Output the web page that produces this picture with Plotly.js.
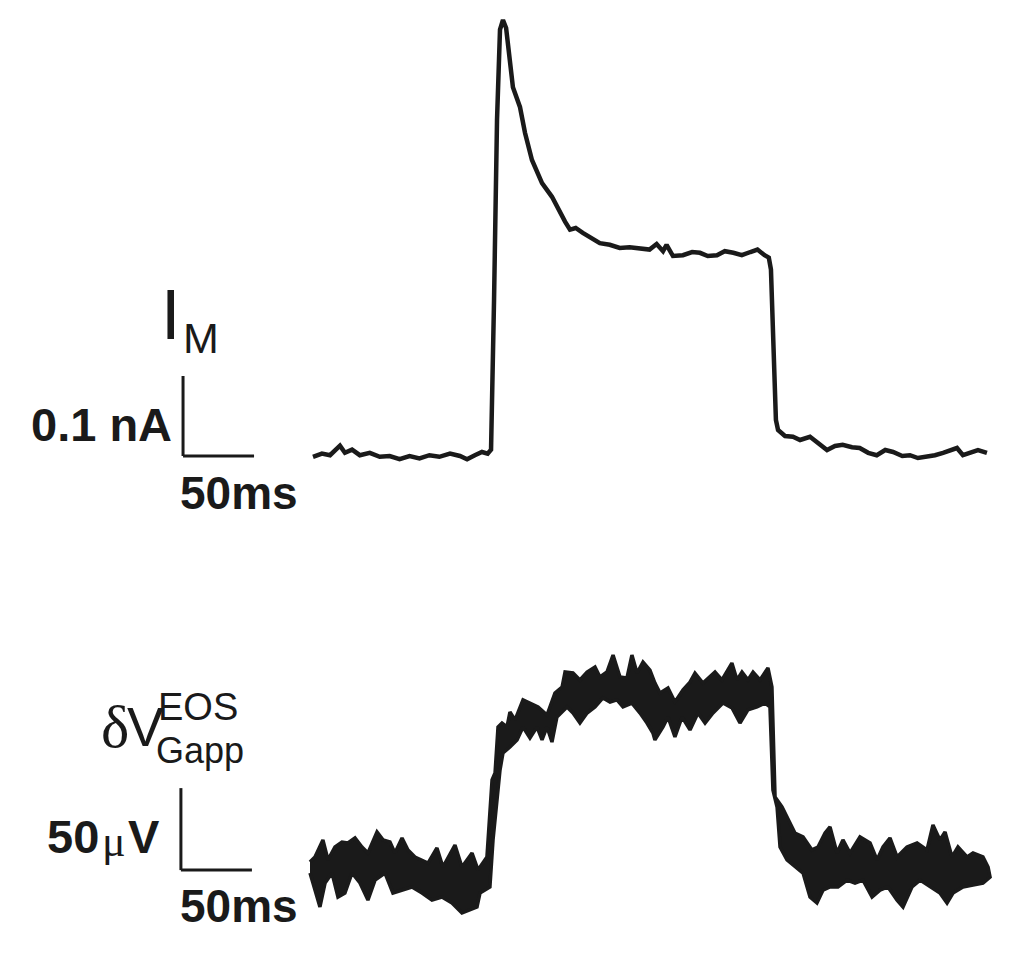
<!DOCTYPE html>
<html>
<head>
<meta charset="utf-8">
<script src="https://cdn.plot.ly/plotly-3.0.1.min.js"></script>
<style>html,body{margin:0;padding:0;background:#fff;}#chart{width:1024px;height:961px;}</style>
</head>
<body>
<div id="chart"></div>
<script>
// ---- Membrane current I_M (time in ms, current in nA) ----
const imTime = [0,6.3,12,19,22.5,27.5,33,40,47,54,61,68,75,82,89,96.5,103.5,108.5,114,119,123,125.4,
  127.5,129.6,131.7,133.8,136,137.3,139.4,140.8,145.8,149.3,154.2,161.3,168.3,174,177.5,181,185,190,195,
  202,209,216,223,230,237,242,246.5,249,253.5,260.5,267,272.5,278,284.5,290,296,302,308,313,318,321,
  322.5,324,326,327.5,332.4,338,343,350,355.6,362,367.6,373,379.6,385,391,397,403,408.5,415,420.4,426,
  432,438,443.7,448.6,453.5,457.7,462.7,468.3,474.6];
const imCurrent = [-0.001,0.003,0.001,0.013,0.004,0.008,0.001,0.004,-0.001,0,-0.004,0,-0.003,0.001,-0.001,
  0.003,0,-0.004,0.001,0.005,0.003,0.008,
  0.195,0.42,0.533,0.545,0.535,0.516,0.483,0.461,0.436,0.404,0.37,0.341,0.324,0.304,0.293,0.283,0.285,0.279,0.274,
  0.266,0.264,0.26,0.261,0.26,0.258,0.265,0.256,0.264,0.25,0.251,0.255,0.254,0.25,0.251,0.256,0.254,0.251,0.255,0.258,0.251,0.248,
  0.233,0.1325,0.045,0.0325,0.025,0.024,0.02,0.024,0.016,0.0075,0.0125,0.014,0.011,0.01,0.004,0.001,0.0075,0.005,0,0.001,-0.0025,
  -0.001,0.001,0.004,0.0075,0.01,0.001,0.004,0.0075,0.004];

// ---- δV_Gapp^EOS (time in ms, voltage in µV): upper and lower edges of the noisy trace ----
const dvUpperTime = [-2.1,1.4,7.0,10.6,15.5,20.4,24.6,29.6,34.5,38.7,45.1,49.3,54.2,57.7,62.7,66.9,71.8,76.8,81.0,87.3,
  91.5,100,104.9,112,116.2,122.5,126.1,128.2,130.3,133.1,136.6,138.7,142.3,147.9,152.8,158.5,164.8,170.4,175.4,177.5,
  183.1,188,193,198.6,202.1,207,211.3,216.2,221.1,224.6,228.2,232.4,237.3,240.8,244.4,250,254.9,260.6,265.5,269,
  274.6,283.1,288,295,298.6,302.1,306.3,309.9,314.8,320.4,323.2,325.4,330.3,334.5,339.4,345.1,351.4,355.6,360.6,364.1,
  369,373.2,378.2,385.2,392.3,397.2,401.4,406.3,411.3,418.3,425.4,432.4,436.6,441.5,445.1,450,454.2,460.6,464.8,471.8,475.4];
const dvUpper = [7.9,11,21.4,9.2,17.1,20.1,19.5,22.6,17.1,13.4,26.2,21.4,20.1,13.4,22.6,15.3,11,9.2,7.3,16.5,
  4.9,18.3,4.9,13.4,3.1,11,58,62.2,90.3,92.7,90.3,99.4,94.6,106.8,104.9,102.5,97.6,111,114.7,123.8,
  123.2,119,123.8,126.9,120.8,123.8,134.2,120.8,120.2,134.2,123.2,129.9,125,117.1,111,114.1,105.5,112.9,117.7,123.2,
  117.1,123.8,119,129.3,119,123.8,119,123.8,119,126.3,114.7,47.6,41.5,33.6,25.6,23.2,15.3,17.1,25.6,29.3,
  13.4,21.4,13.4,23.2,19.5,9.2,17.1,22.6,11,17.1,19.5,15.3,30.5,21.4,26.2,11,17.1,11,13.4,11,4.9];
const dvLowerTime = [-2.1,4.9,8.5,13.4,17.6,22.5,27.5,33.1,38.7,43.7,50.7,56.3,62.7,69.7,76.8,83.8,90.8,97.9,104.9,109.2,
  115.5,117.6,124.6,126.8,129.6,131.7,133.8,138.7,143.7,147.9,152.8,157.7,161.3,164.8,168.3,171.8,178.9,183.1,188,193,
  198.6,204.2,209.2,214.1,218.3,224.6,230.3,235.2,239.4,240.8,246.5,250,254.9,259.9,265.5,271.1,276.1,281.7,288.7,295.1,
  300.7,306.3,312.7,318.3,321.8,323.9,326.8,328.9,333.8,339.4,345.1,350,354.9,359.2,364.1,369.7,376.1,381.7,387.3,393.7,
  399.3,404.9,411.3,415.5,421.8,427.5,434.5,441.5,446.5,450.7,457.7,464.8,471.8,476.8];
const dvLower = [1.2,-19.5,-4.9,1.2,-13.4,-11,1.2,-4.9,-15.3,-3.1,1.2,-11,-9.2,-7.3,-11,-15.3,-13.4,-17.1,-23.2,-21.4,
  -19.5,-11,-7.3,21.4,47.6,64,74.4,78.1,82.4,90.3,83.6,90.3,82.4,90.3,81.1,96.4,102.5,98.8,92.7,98.8,
  102.5,108,105.5,106.8,102.5,104.9,98.8,92.7,86.6,82.4,90.3,96.4,84.2,96.4,88.5,98.8,92.7,98.8,104.9,101.9,
  92.7,100.7,102.5,104.9,102.5,51.9,41.5,17.1,9.2,4.9,1.2,-13.4,-17.1,-9.2,-7.3,-7.3,-3.1,-4.9,-3.1,-13.4,
  -9.2,-7.3,-15.3,-19.5,-7.3,-3.1,-7.3,-11,-17.1,-11,-7.3,-6.1,-4.9,-1.2];

// ---- scale bars ----
const scaleTimeMs = 50;
const scaleCurrentNa = 0.1;
const scaleVoltageUv = 50;

const ink = '#1a1a1a';

const dvX = dvUpperTime.concat(dvLowerTime.slice().reverse());
const dvY = dvUpper.concat(dvLower.slice().reverse());

const traces = [
  {x: imTime, y: imCurrent, type: 'scatter', mode: 'lines', yaxis: 'y',
   line: {color: ink, width: 4.5}, hoverinfo: 'skip'},
  {x: dvX, y: dvY, type: 'scatter', mode: 'lines', yaxis: 'y2', fill: 'toself',
   fillcolor: ink, line: {color: ink, width: 3.5}, hoverinfo: 'skip'}
];

// scale bar anchors (ms on x; nA / µV on y)
const sbTopX = -91.5, sbTopY = 0;
const sbBotX = -93, sbBotY = 3;

const shapes = [
  {type: 'line', xref: 'x', yref: 'y', x0: sbTopX, x1: sbTopX, y0: sbTopY, y1: sbTopY + scaleCurrentNa, line: {color: ink, width: 3}},
  {type: 'line', xref: 'x', yref: 'y', x0: sbTopX, x1: sbTopX + scaleTimeMs, y0: sbTopY, y1: sbTopY, line: {color: ink, width: 3}},
  {type: 'line', xref: 'x', yref: 'y2', x0: sbBotX, x1: sbBotX, y0: sbBotY, y1: sbBotY + scaleVoltageUv, line: {color: ink, width: 3}},
  {type: 'line', xref: 'x', yref: 'y2', x0: sbBotX, x1: sbBotX + scaleTimeMs, y0: sbBotY, y1: sbBotY, line: {color: ink, width: 3}}
];

const W = 1024, H = 961;
const sans = 'Liberation Sans, Arial, sans-serif';
const serif = 'Liberation Serif, Times New Roman, serif';
function ann(text, px, py, size, xanchor, family) {
  return {
    text: text, xref: 'paper', yref: 'paper', x: px / W, y: 1 - py / H,
    xanchor: xanchor, yanchor: 'middle', showarrow: false, borderpad: 0,
    font: {family: family || sans, size: size, color: ink}
  };
}
const annotations = [
  ann('I', 170, 315, 70, 'center'),
  ann('M', 201, 338, 43, 'center'),
  ann('<b>0.1 nA</b>', 173, 424, 47, 'right'),
  ann('<b>' + scaleTimeMs + 'ms</b>', 179, 493, 46, 'left'),
  ann('δ', 130, 727, 60, 'right', serif),
  ann('V', 126, 727, 55, 'left'),
  ann('EOS', 157, 707, 38, 'left'),
  ann('Gapp', 155, 750, 36, 'left'),
  ann('<b>' + scaleVoltageUv + '</b>', 100, 836, 47, 'right'),
  ann('μ', 127, 841, 44, 'right', serif),
  ann('<b>V</b>', 127, 836, 47, 'left'),
  ann('<b>' + scaleTimeMs + 'ms</b>', 179, 906, 46, 'left')
];

const layout = {
  width: W, height: H,
  margin: {l: 0, r: 0, t: 0, b: 0, pad: 0},
  paper_bgcolor: '#ffffff', plot_bgcolor: '#ffffff',
  showlegend: false,
  xaxis: {range: [-220.4, 500.7], visible: false, fixedrange: true},
  yaxis: {range: [-0.63125, 0.57], visible: false, fixedrange: true},
  yaxis2: {range: [-52.46, 533.75], visible: false, fixedrange: true, overlaying: 'y'},
  shapes: shapes,
  annotations: annotations
};

Plotly.newPlot('chart', traces, layout, {staticPlot: true, displayModeBar: false});
</script>
</body>
</html>
